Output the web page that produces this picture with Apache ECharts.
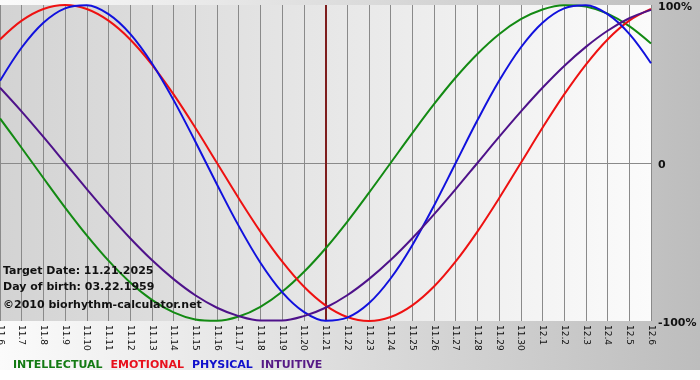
<!DOCTYPE html>
<html>
<head>
<meta charset="utf-8">
<script src="https://cdn.jsdelivr.net/npm/echarts@6/dist/echarts.min.js"></script>
<style>
html,body{margin:0;padding:0;background:#fff;}
#c{width:700px;height:380px;}
</style>
</head>
<body>
<div id="c"></div>
<script>
const categories = ['11.6','11.7','11.8','11.9','11.10','11.11','11.12','11.13','11.14','11.15','11.16','11.17','11.18','11.19','11.20','11.21','11.22','11.23','11.24','11.25','11.26','11.27','11.28','11.29','11.30','12.1','12.2','12.3','12.4','12.5','12.6'];
const intellectual = [28.2,9.5,-9.5,-28.2,-45.8,-61.8,-75.6,-86.6,-94.5,-99.0,-99.9,-97.2,-91.0,-81.5,-69.0,-54.1,-37.2,-18.9,0,18.9,37.2,54.1,69.0,81.5,91.0,97.2,99.9,99.0,94.5,86.6,75.6];
const emotional = [78.2,90.1,97.5,100,97.5,90.1,78.2,62.3,43.4,22.3,0,-22.3,-43.4,-62.3,-78.2,-90.1,-97.5,-100,-97.5,-90.1,-78.2,-62.3,-43.4,-22.3,0,22.3,43.4,62.3,78.2,90.1,97.5];
const physical = [52.0,73.1,88.8,97.9,99.8,94.2,81.7,63.1,39.8,13.6,-13.6,-39.8,-63.1,-81.7,-94.2,-99.8,-97.9,-88.8,-73.1,-52.0,-27.0,0,27.0,52.0,73.1,88.8,97.9,99.8,94.2,81.7,63.1];
const intuitive = [47.6,32.5,16.5,0,-16.5,-32.5,-47.6,-61.4,-73.5,-83.7,-91.6,-96.9,-99.7,-99.7,-96.9,-91.6,-83.7,-73.5,-61.4,-47.6,-32.5,-16.5,0,16.5,32.5,47.6,61.4,73.5,83.7,91.6,96.9];
const targetDay = '11.21';
const infoLines = ['Target Date: 11.21.2025','Day of birth: 03.22.1959','\u00a92010 biorhythm-calculator.net'];

const FONT = 'DejaVu Sans';
const chart = echarts.init(document.getElementById('c'), null, {renderer:'canvas'});

function line(name, data, color, extra){
  return Object.assign({
    name: name, type:'line', data: data, smooth: 0.35, symbol:'none',
    lineStyle:{color:color, width:2}, itemStyle:{color:color}, z:3
  }, extra || {});
}

chart.setOption({
  animation:false,
  backgroundColor: new echarts.graphic.LinearGradient(0,0,1,0,[
    {offset:0,color:'#fbfbfb'},{offset:1,color:'#bdbdbd'}
  ]),
  graphic:[
    {type:'rect', left:0, top:370, shape:{width:700,height:10}, style:{fill:'#ffffff'}, silent:true},
    {type:'text', left:3, top:266, style:{text:infoLines[0], font:'bold 11px "DejaVu Sans"', fill:'#111'}, z:10},
    {type:'text', left:3, top:282, style:{text:infoLines[1], font:'bold 11px "DejaVu Sans"', fill:'#111'}, z:10},
    {type:'text', left:3, top:300, style:{text:infoLines[2], font:'bold 11px "DejaVu Sans"', fill:'#111'}, z:10}
  ],
  grid:{
    left:0, right:49, top:5, bottom:59, show:true, borderWidth:0,
    containLabel:false, outerBoundsMode:'none',
    backgroundColor: new echarts.graphic.LinearGradient(0,0,1,0,[
      {offset:0,color:'#d3d3d3'},{offset:1,color:'#fbfbfb'}
    ])
  },
  legend:{
    left:3, top:355, icon:'none', itemWidth:0, itemHeight:0, itemGap:3,
    selectedMode:false,
    textStyle:{fontFamily:FONT, fontWeight:'bold', fontSize:11, padding:0},
    data:[
      {name:'INTELLECTUAL', textStyle:{color:'#137a13'}},
      {name:'EMOTIONAL', textStyle:{color:'#e8101c'}},
      {name:'PHYSICAL', textStyle:{color:'#1010cc'}},
      {name:'INTUITIVE', textStyle:{color:'#561a86'}}
    ]
  },
  xAxis:{
    type:'category', data:categories, boundaryGap:false,
    axisLine:{show:true, lineStyle:{color:'#8a8a8a', width:1}},
    axisTick:{show:true, inside:false, length:4, alignWithLabel:true, lineStyle:{color:'#8a8a8a'}},
    splitLine:{show:true, interval:0, lineStyle:{color:'#8a8a8a', width:1}},
    axisLabel:{interval:0, rotate:-90, margin:4, fontFamily:FONT, fontSize:9, color:'#111'}
  },
  yAxis:{
    type:'value', position:'right', min:-100, max:100, interval:100,
    axisLine:{show:false}, axisTick:{show:false},
    splitLine:{show:true, lineStyle:{color:['rgba(0,0,0,0)','#8a8a8a','rgba(0,0,0,0)'], width:1}},
    axisLabel:{
      margin:7, color:'#111', align:'left', verticalAlign:'top',
      formatter:function(v){ return '{v|' + (v===0 ? '0' : v + '%') + '}'; },
      rich:{ v:{fontFamily:FONT, fontWeight:'bold', fontSize:11, color:'#111', lineHeight:10, padding:[-5,0,0,0]} }
    }
  },
  series:[
    line('INTELLECTUAL', intellectual, '#138a13', {
      markLine:{
        silent:true, symbol:['none','none'], label:{show:false},
        lineStyle:{color:'#7e1d1d', width:2, type:'solid'},
        data:[{xAxis:targetDay}], z:2
      }
    }),
    line('EMOTIONAL', emotional, '#ee1111'),
    line('PHYSICAL', physical, '#1111dd'),
    line('INTUITIVE', intuitive, '#4e128a')
  ]
});
</script>
</body>
</html>
